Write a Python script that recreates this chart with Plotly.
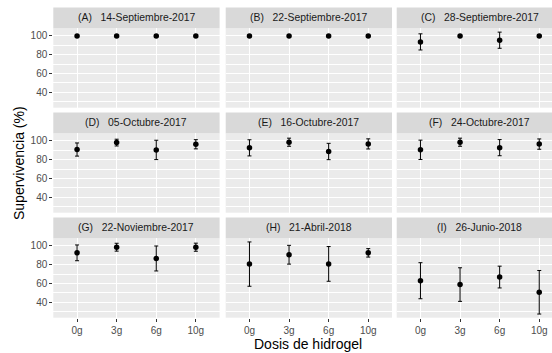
import plotly.graph_objects as go

W, H = 552, 353

doses = ["0g", "3g", "6g", "10g"]
panel_labels = ["(A)", "(B)", "(C)", "(D)", "(E)", "(F)", "(G)", "(H)", "(I)"]
panel_dates = ["14-Septiembre-2017", "22-Septiembre-2017", "28-Septiembre-2017",
               "05-Octubre-2017", "16-Octubre-2017", "24-Octubre-2017",
               "22-Noviembre-2017", "21-Abril-2018", "26-Junio-2018"]

mean_A = [100, 100, 100, 100]
sd_A = [0, 0, 0, 0]
mean_B = [100, 100, 100, 100]
sd_B = [0, 0, 0, 0]
mean_C = [93.6, 100, 95.4, 100]
sd_C = [8.6, 0, 8.6, 0]
mean_D = [90.8, 98.2, 90.4, 96.4]
sd_D = [7.0, 3.6, 10.3, 4.9]
mean_E = [92.6, 98.6, 88.7, 96.8]
sd_E = [8.6, 4.3, 8.7, 5.4]
mean_F = [90.5, 98.6, 92.8, 96.6]
sd_F = [10.3, 4.3, 8.6, 5.5]
mean_G = [92.6, 98.6, 86.6, 98.6]
sd_G = [8.4, 4.2, 13.3, 4.3]
mean_H = [80.6, 90.6, 80.8, 92.6]
sd_H = [23.6, 10.0, 18.5, 4.5]
mean_I = [62.9, 58.8, 66.8, 50.6]
sd_I = [19.2, 17.9, 11.6, 23.2]

means = [mean_A, mean_B, mean_C, mean_D, mean_E, mean_F, mean_G, mean_H, mean_I]
sds = [sd_A, sd_B, sd_C, sd_D, sd_E, sd_F, sd_G, sd_H, sd_I]

y_ticks = [40, 60, 80, 100]
y_minor = [30, 50, 70, 90]

FONT = "Liberation Sans, Arial, Helvetica, sans-serif"

# layout geometry in pixels
col_left = [53.3, 225.7, 396.7]
panel_w = 166.3
row_top = [28.2, 133.2, 238.2]
panel_h = 79.5
strip_h = 20.8
y_range = [23.5, 108.2]

fig = go.Figure()
layout = dict(
    width=W, height=H,
    margin=dict(l=0, r=0, t=0, b=0),
    paper_bgcolor="white",
    plot_bgcolor="#EBEBEB",
    showlegend=False,
    font=dict(family=FONT, color="#4D4D4D", size=10),
)
shapes = []
annotations = []

for i in range(9):
    r, c = divmod(i, 3)
    idx = "" if i == 0 else str(i + 1)
    x0 = col_left[c]
    x1 = min(x0 + panel_w, W)
    xr_end = -0.6 + (x1 - x0) / panel_w * 4.2
    yt = row_top[r]
    yb = yt + panel_h
    fig.add_trace(go.Scatter(
        x=doses, y=means[i],
        mode="markers",
        marker=dict(color="black", size=5.5),
        error_y=dict(type="data", array=sds[i], visible=True,
                     color="black", thickness=1, width=2),
        xaxis="x" + idx, yaxis="y" + idx,
        hoverinfo="skip",
    ))
    bottom = (r == 2)
    left = (c == 0)
    layout["xaxis" + idx] = dict(
        domain=[x0 / W, x1 / W],
        anchor="y" + idx,
        type="category",
        categoryorder="array", categoryarray=doses,
        range=[-0.6, xr_end],
        showgrid=True, gridcolor="white", gridwidth=1.1,
        zeroline=False, showline=False,
        ticks="outside" if bottom else "",
        ticklen=3, tickcolor="#333333", tickwidth=1,
        showticklabels=bottom,
        tickfont=dict(family=FONT, size=10, color="#4D4D4D"),
        fixedrange=True,
    )
    layout["yaxis" + idx] = dict(
        domain=[1 - yb / H, 1 - yt / H],
        anchor="x" + idx,
        range=y_range,
        tickmode="array", tickvals=y_ticks,
        showgrid=True, gridcolor="white", gridwidth=1.1,
        minor=dict(tickmode="array", tickvals=y_minor, showgrid=True,
                   gridcolor="white", gridwidth=0.5),
        zeroline=False, showline=False,
        ticks="outside" if left else "",
        ticklen=3, tickcolor="#333333", tickwidth=1,
        showticklabels=left,
        tickfont=dict(family=FONT, size=10, color="#4D4D4D"),
        fixedrange=True,
    )
    # strip
    shapes.append(dict(type="rect", xref="paper", yref="paper",
                       x0=x0 / W, x1=x1 / W,
                       y0=1 - yt / H, y1=1 - (yt - strip_h) / H,
                       fillcolor="#D9D9D9", line=dict(width=0), layer="below"))
    annotations.append(dict(
        xref="paper", yref="paper",
        x=(x0 + panel_w / 2) / W, y=1 - (yt - strip_h / 2) / H,
        text=panel_labels[i] + "\u00a0\u00a0\u00a0" + panel_dates[i],
        showarrow=False, xanchor="center", yanchor="middle",
        font=dict(family=FONT, size=10.4, color="#1A1A1A"),
    ))

annotations.append(dict(
    xref="paper", yref="paper", x=308 / W, y=1 - 344 / H,
    text="Dosis de hidrogel", showarrow=False,
    xanchor="center", yanchor="middle",
    font=dict(family=FONT, size=14, color="black"),
))
annotations.append(dict(
    xref="paper", yref="paper", x=19 / W, y=1 - 163 / H,
    text="Supervivencia (%)", showarrow=False, textangle=-90,
    xanchor="center", yanchor="middle",
    font=dict(family=FONT, size=14, color="black"),
))

layout["shapes"] = shapes
layout["annotations"] = annotations
fig.update_layout(**layout)
fig.write_html("out.html")
